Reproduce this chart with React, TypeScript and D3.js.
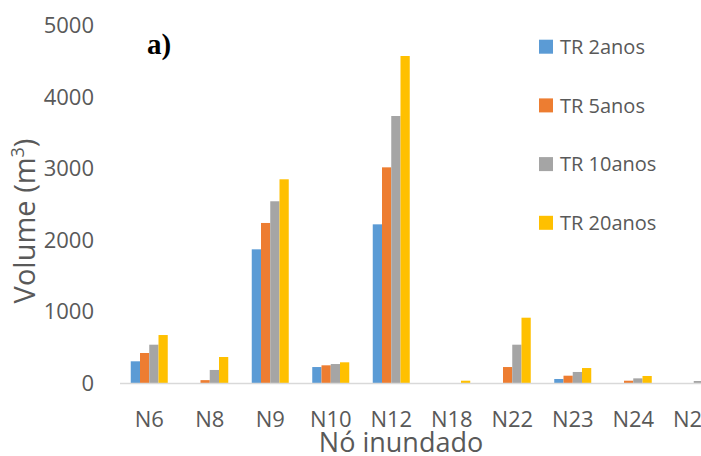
import * as d3 from 'd3'
import React from 'react'

const categories = ['N6', 'N8', 'N9', 'N10', 'N12', 'N18', 'N22', 'N23', 'N24', 'N25']
const seriesNames = ['TR 2anos', 'TR 5anos', 'TR 10anos', 'TR 20anos']
const tr2 = [303, 0, 1867, 223, 2216, 0, 0, 56, 0, 0]
const tr5 = [419, 40, 2235, 247, 3012, 0, 223, 102, 32, 0]
const tr10 = [535, 182, 2538, 265, 3729, 0, 535, 154, 65, 28]
const tr20 = [670, 363, 2845, 289, 4567, 32, 912, 209, 98, 40]
const yTicks = [0, 1000, 2000, 3000, 4000, 5000]
const colors = ['#5B9BD5', '#ED7D31', '#A5A5A5', '#FFC000']

const W = 701, H = 456
const font = '"Open Sans", "Liberation Sans", sans-serif'
const textColor = '#595959'

export default function App() {
  const series = [tr2, tr5, tr10, tr20]
  const
    x0 = d3.scaleBand<string>().domain(categories).range([119, 724]).padding(0),
    groupW = 37,
    x1 = d3.scaleBand<string>().domain(seriesNames).range([0, groupW]).padding(0),
    y = d3.scaleLinear().domain([0, 5000]).range([383, 25])

  const bw = x0.bandwidth()

  return (
    <svg width={W} height={H} style={{ position: 'absolute', left: 0, top: 0, background: '#fff' }}>
      {/* bars */}
      {categories.map((c, i) => (
        <g key={c} transform={`translate(${x0(c)! + (bw - groupW) / 2},0)`}>
          {seriesNames.map((s, j) => {
            const v = series[j][i]
            if (!v) return null
            return <rect key={s} x={x1(s)} width={x1.bandwidth()} y={y(v)} height={y(0) - y(v)} fill={colors[j]} />
          })}
        </g>
      ))}
      {/* baseline */}
      <line x1={120} x2={W} y1={y(0) + 0.5} y2={y(0) + 0.5} stroke='#d9d9d9' strokeWidth={1.5} />
      {/* y tick labels */}
      {yTicks.map(t => (
        <text key={t} x={94} y={y(t)} dy='0.36em' textAnchor='end' fontFamily={font} fontSize={22} fill={textColor}>{t}</text>
      ))}
      {/* x tick labels */}
      {categories.map(c => (
        <text key={c} x={x0(c)! + bw / 2} y={427} textAnchor='middle' fontFamily={font} fontSize={22} fill={textColor}>{c}</text>
      ))}
      {/* axis titles */}
      <text x={401} y={452} textAnchor='middle' fontFamily={font} fontSize={27} fill={textColor}>Nó inundado</text>
      <text transform='translate(35,221) rotate(-90)' textAnchor='middle' fontFamily={font} fontSize={29} fill={textColor}>
        Volume (m<tspan fontSize={18} dy='-11'>3</tspan><tspan dy='11'>)</tspan>
      </text>
      {/* panel label */}
      <text x={147} y={54} fontFamily='"Liberation Serif", "Times New Roman", serif' fontWeight='bold' fontSize={29} fill='#000'>a)</text>
      {/* legend */}
      {seriesNames.map((s, j) => (
        <g key={s} transform={`translate(539,${46.7 + j * 58.7})`}>
          <rect x={0} y={-7} width={14} height={14} fill={colors[j]} />
          <text x={21} y={0} dy='0.36em' fontFamily={font} fontSize={20} fill={textColor}>{s}</text>
        </g>
      ))}
    </svg>
  )
}
